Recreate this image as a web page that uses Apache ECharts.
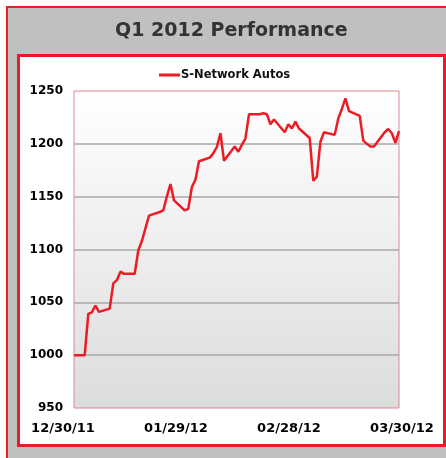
<!DOCTYPE html>
<html>
<head>
<meta charset="utf-8">
<script src="https://cdn.jsdelivr.net/npm/echarts@6/dist/echarts.min.js"></script>
<style>
  html, body { margin: 0; padding: 0; background: #fff; }
  #main { width: 446px; height: 458px; }
</style>
</head>
<body>
<div id="main"></div>
<script>
// index values, Q1 2012
var dates = [
  '2011-12-30', '2012-01-02', '2012-01-03', '2012-01-04', '2012-01-05', '2012-01-06',
  '2012-01-09', '2012-01-10', '2012-01-11', '2012-01-12', '2012-01-13',
  '2012-01-16', '2012-01-17', '2012-01-18', '2012-01-19', '2012-01-20',
  '2012-01-23', '2012-01-24', '2012-01-25', '2012-01-26', '2012-01-27',
  '2012-01-30', '2012-01-31', '2012-02-01', '2012-02-02', '2012-02-03',
  '2012-02-06', '2012-02-07', '2012-02-08', '2012-02-09', '2012-02-10',
  '2012-02-13', '2012-02-14', '2012-02-15', '2012-02-16', '2012-02-17',
  '2012-02-20', '2012-02-21', '2012-02-22', '2012-02-23', '2012-02-24',
  '2012-02-27', '2012-02-28', '2012-02-29', '2012-03-01', '2012-03-02',
  '2012-03-05', '2012-03-06', '2012-03-07', '2012-03-08', '2012-03-09',
  '2012-03-12', '2012-03-13', '2012-03-14', '2012-03-15', '2012-03-16',
  '2012-03-19', '2012-03-20', '2012-03-21', '2012-03-22', '2012-03-23',
  '2012-03-26', '2012-03-27', '2012-03-28', '2012-03-29', '2012-03-30'
];
var autos = [
  1000, 1000, 1039, 1040.5, 1047, 1041,
  1044, 1068, 1071, 1079, 1077,
  1077, 1099, 1108, 1120, 1132,
  1135.5, 1137, 1150, 1162, 1146.5,
  1137, 1138.5, 1159, 1166, 1183.5,
  1187, 1191, 1197, 1210, 1184,
  1197.5, 1192.5, 1199, 1205, 1228,
  1228, 1229, 1228, 1218.5, 1223,
  1211, 1218.5, 1214.5, 1221, 1214.5,
  1205.5, 1165, 1169, 1202, 1211,
  1208.5, 1224, 1233, 1243, 1231,
  1226.5, 1203, 1200, 1197.5, 1197.5,
  1211, 1214, 1210, 1201, 1212
];
var xLabels = ['12/30/11', '01/29/12', '02/28/12', '03/30/12'];
var seriesName = 'S-Network Autos';

var red = '#ed1c24';
var font = 'DejaVu Sans';

var points = [];
for (var i = 0; i < dates.length; i++) {
  points.push([dates[i], autos[i]]);
}

var myChart = echarts.init(document.getElementById('main'), null, {renderer: 'canvas'});
myChart.setOption({
  backgroundColor: '#fff',
  animation: false,
  graphic: {
    elements: [
      {
        type: 'rect', z: -100, silent: true,
        shape: {x: 7, y: 7, width: 460, height: 470},
        style: {fill: '#c0c0c0', stroke: '#e8202a', lineWidth: 2}
      },
      {
        type: 'rect', z: -90, silent: true,
        shape: {x: 18.5, y: 55.5, width: 426, height: 390},
        style: {fill: '#fff', stroke: '#e31e24', lineWidth: 3}
      }
    ]
  },
  title: {
    text: 'Q1 2012 Performance',
    left: 115,
    top: 22,
    padding: 0,
    textStyle: {
      fontFamily: font,
      fontWeight: 'bold',
      fontSize: 19,
      color: '#333'
    }
  },
  legend: {
    data: [seriesName],
    left: 159,
    top: 69,
    padding: 0,
    icon: 'rect',
    itemWidth: 21,
    itemHeight: 3,
    textStyle: {
      fontFamily: font,
      fontWeight: 'bold',
      fontSize: 11.5,
      color: '#111',
      padding: [0, 0, 0, -4]
    }
  },
  grid: [
    {
      left: 74,
      top: 91,
      width: 325,
      height: 317,
      show: true,
      borderColor: '#dc8a8e',
      borderWidth: 1,
      backgroundColor: new echarts.graphic.LinearGradient(0, 0, 0, 1, [
        {offset: 0, color: '#ffffff'},
        {offset: 0.5, color: '#eeeeee'},
        {offset: 1, color: '#dcdcdc'}
      ])
    },
    {
      left: 63,
      top: 407,
      width: 339,
      height: 1
    }
  ],
  xAxis: [
    {
      type: 'time',
      gridIndex: 0,
      min: '2011-12-30',
      max: '2012-03-30',
      axisLine: {show: false},
      axisTick: {show: false},
      axisLabel: {show: false},
      splitLine: {show: false}
    },
    {
      type: 'category',
      gridIndex: 1,
      data: xLabels,
      boundaryGap: false,
      axisLine: {show: false},
      axisTick: {show: false},
      splitLine: {show: false},
      axisLabel: {
        margin: 14,
        interval: 0,
        fontFamily: font,
        fontWeight: 'bold',
        fontSize: 13,
        color: '#000'
      }
    }
  ],
  yAxis: [
    {
      type: 'value',
      gridIndex: 0,
      min: 950,
      max: 1250,
      interval: 50,
      axisLine: {show: false},
      axisTick: {show: false},
      axisLabel: {
        margin: 11,
        fontFamily: font,
        fontWeight: 'bold',
        fontSize: 12,
        color: '#000',
        formatter: function (v) { return String(v); }
      },
      splitLine: {
        show: true,
        showMinLine: false,
        showMaxLine: false,
        lineStyle: {color: '#a9a9a9', width: 1.5}
      }
    },
    {
      type: 'value',
      gridIndex: 1,
      show: false
    }
  ],
  series: [
    {
      name: seriesName,
      type: 'line',
      xAxisIndex: 0,
      yAxisIndex: 0,
      data: points,
      showSymbol: false,
      lineStyle: {color: red, width: 2.5},
      itemStyle: {color: red}
    }
  ]
});
</script>
</body>
</html>
